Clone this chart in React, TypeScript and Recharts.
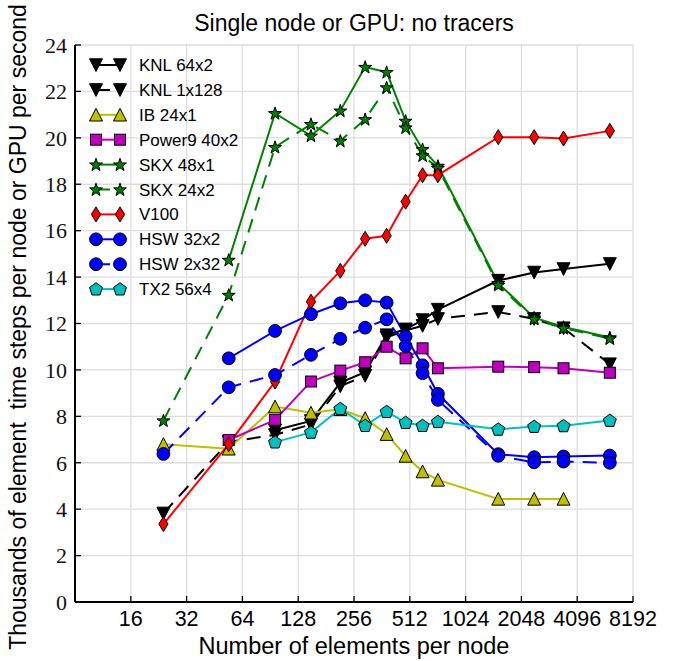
import { CartesianGrid, Line, LineChart, XAxis, YAxis } from "recharts"

// elements per node (6 * ne^2) and throughput in thousands of element time steps per second
const elements = [24, 54, 96, 150, 216, 294, 384, 486, 600, 726, 1536, 2400, 3456, 6144]

const knl64x2 = [null, null, 7.4, 7.8, 9.45, 9.9, 11.5, 11.75, 12.15, 12.6, 13.85, 14.2, 14.35, 14.57]
const knl1x128 = [3.82, 6.9, 7.2, 7.65, 9.3, 9.75, 11.4, 11.7, 11.9, 12.2, 12.5, 12.2, 11.8, 10.25]
const ib24x1 = [6.8, 6.6, 8.42, 8.15, 8.3, 7.92, 7.23, 6.29, 5.62, 5.26, 4.44, 4.44, 4.44, null]
const power9 = [null, 6.98, 7.85, 9.5, 9.97, 10.33, 11.0, 10.5, 10.93, 10.07, 10.14, 10.12, 10.07, 9.88]
const skx48x1 = [null, 14.74, 21.06, 20.09, 21.17, 23.05, 22.83, 20.73, 19.51, 18.79, 13.74, 12.25, 11.85, 11.4]
const skx24x2 = [7.82, 13.23, 19.6, 20.59, 19.87, 20.8, 22.17, 20.44, 19.24, 18.7, 13.66, 12.2, 11.8, 11.35]
const v100 = [3.36, 6.8, 9.5, 12.94, 14.27, 15.65, 15.78, 17.25, 18.39, 18.39, 20.03, 20.03, 19.97, 20.3]
const hsw32x2 = [null, 10.5, 11.68, 12.4, 12.87, 13.0, 12.9, 11.44, 10.2, 8.97, 6.37, 6.24, 6.27, 6.31]
const hsw2x32 = [6.38, 9.25, 9.78, 10.65, 11.34, 11.82, 12.18, 11.03, 9.86, 8.71, 6.3, 6.02, 6.05, 6.0]
const tx2 = [null, null, 6.89, 7.31, 8.33, 7.6, 8.2, 7.73, 7.6, 7.77, 7.44, 7.56, 7.59, 7.82]

const xTicks = [16, 32, 64, 128, 256, 512, 1024, 2048, 4096, 8192]
const yTicks = [0, 2, 4, 6, 8, 10, 12, 14, 16, 18, 20, 22, 24]

type MarkerKind = "triDown" | "triUp" | "square" | "star" | "diamond" | "circle" | "pentagon"

interface Series {
  key: string
  name: string
  values: (number | null)[]
  color: string
  dashed: boolean
  marker: MarkerKind
}

const series: Series[] = [
  { key: "knl64x2", name: "KNL 64x2", values: knl64x2, color: "#000000", dashed: false, marker: "triDown" },
  { key: "knl1x128", name: "KNL 1x128", values: knl1x128, color: "#000000", dashed: true, marker: "triDown" },
  { key: "ib24x1", name: "IB 24x1", values: ib24x1, color: "#bfbf00", dashed: false, marker: "triUp" },
  { key: "power9", name: "Power9 40x2", values: power9, color: "#bf00bf", dashed: false, marker: "square" },
  { key: "skx48x1", name: "SKX 48x1", values: skx48x1, color: "#008000", dashed: false, marker: "star" },
  { key: "skx24x2", name: "SKX 24x2", values: skx24x2, color: "#008000", dashed: true, marker: "star" },
  { key: "v100", name: "V100", values: v100, color: "#ff0000", dashed: false, marker: "diamond" },
  { key: "hsw32x2", name: "HSW 32x2", values: hsw32x2, color: "#0000ff", dashed: false, marker: "circle" },
  { key: "hsw2x32", name: "HSW 2x32", values: hsw2x32, color: "#0000ff", dashed: true, marker: "circle" },
  { key: "tx2", name: "TX2 56x4", values: tx2, color: "#00bfbf", dashed: false, marker: "pentagon" },
]

const data = elements.map((x, i) => {
  const row: Record<string, number | null> = { x }
  series.forEach((s) => {
    row[s.key] = s.values[i]
  })
  return row
})

const DASH = "14 9"
const SANS = "'Liberation Sans', Arial, sans-serif"
const SERIF = "'Liberation Serif', 'Times New Roman', serif"

function polyPoints(cx: number, cy: number, n: number, rOuter: number, rInner?: number) {
  const pts: string[] = []
  const count = rInner ? n * 2 : n
  for (let i = 0; i < count; i++) {
    const r = rInner && i % 2 === 1 ? rInner : rOuter
    const a = -Math.PI / 2 + (i * 2 * Math.PI) / count
    pts.push(`${cx + r * Math.cos(a)},${cy + r * Math.sin(a)}`)
  }
  return pts.join(" ")
}

function Marker({ kind, cx, cy, fill }: { kind: MarkerKind; cx: number; cy: number; fill: string }) {
  const edge = { fill, stroke: "#000", strokeWidth: 1 }
  switch (kind) {
    case "circle":
      return <circle cx={cx} cy={cy} r={6.4} {...edge} />
    case "square":
      return <rect x={cx - 5.5} y={cy - 5.5} width={11} height={11} {...edge} />
    case "diamond":
      return (
        <polygon
          points={`${cx},${cy - 7.5} ${cx + 4.6},${cy} ${cx},${cy + 7.5} ${cx - 4.6},${cy}`}
          {...edge}
        />
      )
    case "triDown":
      return (
        <polygon
          points={`${cx - 6.5},${cy - 6.2} ${cx + 6.5},${cy - 6.2} ${cx},${cy + 6.5}`}
          {...edge}
        />
      )
    case "triUp":
      return (
        <polygon
          points={`${cx},${cy - 6.5} ${cx - 6.5},${cy + 6.2} ${cx + 6.5},${cy + 6.2}`}
          {...edge}
        />
      )
    case "star":
      return <polygon points={polyPoints(cx, cy + 0.5, 5, 6.8, 2.7)} {...edge} />
    case "pentagon":
      return <polygon points={polyPoints(cx, cy + 0.4, 5, 6.8)} {...edge} />
  }
}

function Legend() {
  return (
    <g>
      {series.map((s, i) => {
        const y = 65 + i * 24.9
        return (
          <g key={s.key}>
            <line
              x1={96}
              x2={120}
              y1={y}
              y2={y}
              stroke={s.color}
              strokeWidth={2}
              strokeDasharray={s.dashed ? DASH : undefined}
            />
            <Marker kind={s.marker} cx={96} cy={y} fill={s.color} />
            <Marker kind={s.marker} cx={120} cy={y} fill={s.color} />
            <text x={139} y={y + 6} fontSize={17} fontFamily={SANS} fill="#000">
              {s.name}
            </text>
          </g>
        )
      })}
    </g>
  )
}

export default function App() {
  return (
    <div style={{ position: "absolute", left: 0, top: 0, width: 677, height: 661, background: "#fff" }}>
      <LineChart
        width={677}
        height={661}
        data={data}
        margin={{ top: 45, right: 44, bottom: 29, left: 45 }}
      >
        <CartesianGrid stroke="#dddddd" strokeWidth={1.3} />
        <XAxis
          dataKey="x"
          type="number"
          scale="log"
          domain={[8, 8192]}
          ticks={xTicks}
          interval={0}
          height={30}
          tickSize={-6}
          tickMargin={15}
          axisLine={{ stroke: "#000", strokeWidth: 2 }}
          tickLine={{ stroke: "#000", strokeWidth: 1.3 }}
          tick={{ fill: "#000", fontSize: 21.5, fontFamily: SANS }}
        />
        <XAxis
          xAxisId="top"
          orientation="top"
          dataKey="x"
          type="number"
          scale="log"
          domain={[8, 8192]}
          ticks={xTicks}
          interval={0}
          height={0}
          tickSize={-6}
          tick={false}
          axisLine={{ stroke: "#000", strokeWidth: 2 }}
          tickLine={{ stroke: "#000", strokeWidth: 1.3 }}
        />
        <YAxis
          type="number"
          domain={[0, 24]}
          ticks={yTicks}
          interval={0}
          width={30}
          tickSize={-6}
          tickMargin={14}
          axisLine={{ stroke: "#000", strokeWidth: 2 }}
          tickLine={{ stroke: "#000", strokeWidth: 1.3 }}
          tick={{ fill: "#111", fontSize: 22, fontFamily: SERIF }}
        />
        <YAxis
          yAxisId="right"
          orientation="right"
          type="number"
          domain={[0, 24]}
          ticks={yTicks}
          interval={0}
          width={0}
          tickSize={-6}
          tick={false}
          axisLine={{ stroke: "#000", strokeWidth: 2 }}
          tickLine={{ stroke: "#000", strokeWidth: 1.3 }}
        />
        {series.map((s) => (
          <Line
            key={s.key}
            dataKey={s.key}
            name={s.name}
            stroke={s.color}
            strokeWidth={2}
            strokeDasharray={s.dashed ? DASH : undefined}
            isAnimationActive={false}
            activeDot={false}
            dot={(p: any) =>
              p.cx == null || p.cy == null || p.value == null ? (
                <g key={`${s.key}-${p.index}`} />
              ) : (
                <Marker key={`${s.key}-${p.index}`} kind={s.marker} cx={p.cx} cy={p.cy} fill={s.color} />
              )
            }
          />
        ))}
      </LineChart>
      <svg
        width={677}
        height={661}
        style={{ position: "absolute", left: 0, top: 0, pointerEvents: "none" }}
      >
        <text x={354} y={31} textAnchor="middle" fontSize={23} fontFamily={SANS} fill="#000">
          Single node or GPU: no tracers
        </text>
        <text x={354} y={654} textAnchor="middle" fontSize={23.5} fontFamily={SANS} fill="#000">
          Number of elements per node
        </text>
        <text
          transform="translate(26,327) rotate(-90)"
          textAnchor="middle"
          fontSize={23}
          fontFamily={SANS}
          fill="#000"
          style={{ whiteSpace: "pre" }}
        >
          Thousands of element  time steps per node or GPU per second
        </text>
        <Legend />
      </svg>
    </div>
  )
}
